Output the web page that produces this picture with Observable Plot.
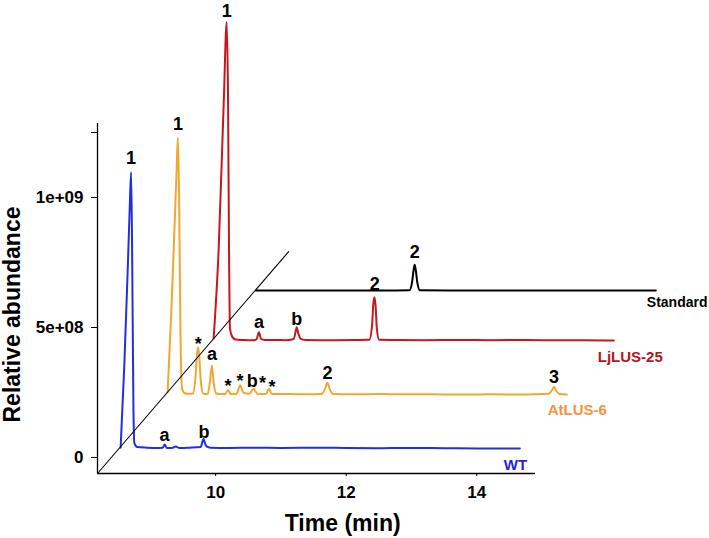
<!DOCTYPE html>
<html>
<head>
<meta charset="utf-8">
<script src="https://cdn.jsdelivr.net/npm/d3@7"></script>
<script src="https://cdn.jsdelivr.net/npm/@observablehq/plot@0.6"></script>
<style>
  html, body { margin: 0; padding: 0; background: #fff; }
  #chart { width: 709px; height: 538px; }
</style>
</head>
<body>
<div id="chart"></div>
<script>
// ---- Data (raw chromatogram values, each trace in its own time frame) ----
const seriesNames = ["WT", "AtLUS-6", "LjLUS-25", "Standard"];
const lineColors  = ["#2030e0", "#f0a830", "#c8161e", "#000000"];
const nameColors  = ["#2424e6", "#f7923f", "#b5161c", "#000000"];
const nameSizes   = [15, 15, 15, 14];
// pseudo-3D stacking offsets (minutes, abundance)
const offsetTime  = [0, 0.72, 1.425, 2.069];
const offsetAbund = [0, 2.06e8, 4.14e8, 6.04e8];

const wtTime  = [8.544, 8.60, 8.65, 8.685, 8.705, 8.722, 8.74, 8.755, 8.80, 8.95, 9.10, 9.19, 9.22, 9.25, 9.33, 9.39, 9.44, 9.60, 9.77, 9.80, 9.815, 9.83, 9.86, 9.92, 10.2, 10.6, 11.0, 11.5, 12.0, 12.5, 13.0, 13.5, 14.0, 14.3, 14.66];
const wtAbund = [3.8e7, 3.5e8, 7.0e8, 9.7e8, 1.097e9, 7.5e8, 2.0e8, 5.5e7, 4.0e7, 3.8e7, 3.7e7, 3.8e7, 5.0e7, 3.7e7, 3.7e7, 4.2e7, 3.7e7, 3.8e7, 4.0e7, 6.2e7, 7.2e7, 6.0e7, 4.3e7, 3.8e7, 3.7e7, 3.8e7, 3.7e7, 3.8e7, 3.7e7, 3.6e7, 3.7e7, 3.6e7, 3.5e7, 3.5e7, 3.5e7];

const atTime  = [8.544, 8.60, 8.65, 8.685, 8.702, 8.72, 8.74, 8.765, 8.80, 8.86, 8.93, 8.97, 8.995, 9.012, 9.03, 9.055, 9.09, 9.125, 9.16, 9.195, 9.223, 9.25, 9.29, 9.36, 9.43, 9.469, 9.51, 9.60, 9.655, 9.71, 9.80, 9.858, 9.92, 10.05, 10.097, 10.14, 10.4, 10.7, 10.90, 10.95, 10.992, 11.03, 11.08, 11.4, 11.8, 12.2, 12.6, 13.0, 13.5, 14.0, 14.38, 14.43, 14.465, 14.50, 14.55, 14.66];
const atAbund = [4.5e7, 3.5e8, 6.8e8, 9.2e8, 1.0236e9, 8.0e8, 3.0e8, 6.0e7, 4.2e7, 3.9e7, 4.0e7, 1.0e8, 1.9e8, 2.18e8, 1.8e8, 8.0e7, 4.0e7, 3.8e7, 4.0e7, 9.0e7, 1.48e8, 8.0e7, 4.0e7, 3.8e7, 3.8e7, 5.4e7, 3.8e7, 3.9e7, 7.1e7, 4.2e7, 4.0e7, 5.8e7, 3.9e7, 3.8e7, 5.8e7, 3.8e7, 3.8e7, 3.7e7, 3.8e7, 5.5e7, 8.2e7, 5.5e7, 3.8e7, 3.7e7, 3.8e7, 3.7e7, 3.7e7, 3.6e7, 3.7e7, 3.6e7, 3.9e7, 5.2e7, 6.6e7, 5.0e7, 3.8e7, 3.6e7];

const ljTime  = [8.544, 8.62, 8.70, 8.744, 8.765, 8.78, 8.795, 8.83, 8.88, 9.0, 9.15, 9.20, 9.239, 9.27, 9.33, 9.50, 9.65, 9.77, 9.80, 9.816, 9.84, 9.88, 9.95, 10.3, 10.7, 10.93, 10.97, 10.99, 11.007, 11.025, 11.045, 11.08, 11.3, 11.8, 12.3, 12.8, 13.3, 13.8, 14.2, 14.675];
const ljAbund = [4.4e7, 3.8e8, 9.6e8, 1.26e9, 9.6e8, 3.8e8, 8.0e7, 5.0e7, 4.0e7, 3.8e7, 3.7e7, 4.0e7, 6.8e7, 4.2e7, 3.8e7, 3.8e7, 3.7e7, 4.2e7, 7.0e7, 8.7e7, 6.5e7, 4.2e7, 3.8e7, 3.7e7, 3.8e7, 3.9e7, 9.0e7, 1.75e8, 2.025e8, 1.7e8, 8.0e7, 3.9e7, 3.8e7, 3.7e7, 3.8e7, 3.7e7, 3.8e7, 3.7e7, 3.7e7, 3.6e7];

const stdTime  = [8.544, 9.5, 10.5, 10.90, 10.94, 10.965, 10.98, 10.995, 11.02, 11.06, 11.5, 12.5, 13.5, 14.674];
const stdAbund = [3.8e7, 3.8e7, 3.8e7, 3.9e7, 7.0e7, 1.2e8, 1.37e8, 1.2e8, 7.0e7, 3.9e7, 3.8e7, 3.8e7, 3.8e7, 3.8e7];

// peak annotations (series index, time, abundance at label centre, text)
const peakSeries = [0, 0, 0, 1, 1, 1, 1, 1, 1, 1, 1, 1, 1, 2, 2, 2, 2, 3];
const peakTime   = [8.705, 9.218, 9.821, 8.702, 9.015, 9.223, 9.469, 9.652, 9.842, 9.996, 10.143, 10.992, 14.465, 8.744, 9.239, 9.816, 11.012, 10.981];
const peakAbund  = [1.1515e9, 8.46e7, 9.77e7, 1.075e9, 2.305e8, 1.90e8, 6.75e7, 8.67e7, 8.8e7, 7.8e7, 6.36e7, 1.198e8, 1.032e8, 1.303e9, 1.064e8, 1.17e8, 2.517e8, 1.871e8];
const peakText   = ["1", "a", "b", "1", "*", "a", "*", "*", "b", "*", "*", "2", "3", "1", "a", "b", "2", "2"];

// series name labels (display coordinates)
const nameTime  = [14.414, 15.088, 15.854, 16.605];
const nameAbund = [-3.08e7, 1.808e8, 3.846e8, 5.96e8];

// axes
const xTicks = [10, 12, 14];
const yTickValues = [0, 5e8, 1e9, 1.25e9];
const yTickLabels = ["0", "5e+08", "1e+09", ""];
const xDomain = [8.19, 14.9];
const yDomain = [-6.15e7, 1.7577e9];
const yAxisTop = 1.2846e9;
const diagTime = [8.19, 11.119];
const diagAbund = [-6.15e7, 7.92e8];

// ---- Build tables ----
const rawTimes = [wtTime, atTime, ljTime, stdTime];
const rawAbunds = [wtAbund, atAbund, ljAbund, stdAbund];
const traces = seriesNames.map((name, i) =>
  rawTimes[i].map((t, j) => ({ series: name, t: t + offsetTime[i], v: rawAbunds[i][j] + offsetAbund[i] }))
);
const peaks = peakText.map((txt, k) => {
  const i = peakSeries[k];
  return { text: txt, t: peakTime[k] + offsetTime[i], v: peakAbund[k] + offsetAbund[i] };
});
const names = seriesNames.map((n, i) => ({ text: n, t: nameTime[i], v: nameAbund[i], color: nameColors[i], size: nameSizes[i] }));
const diag = diagTime.map((t, i) => ({ t, v: diagAbund[i] }));

const font = "'Liberation Sans', Arial, Helvetica, sans-serif";

const lineMarks = [3, 2, 1, 0].map(i =>
  Plot.line(traces[i], { x: "t", y: "v", stroke: lineColors[i], strokeWidth: 2, curve: "monotone-x" })
);

const chart = Plot.plot({
  width: 709,
  height: 538,
  marginLeft: 97,
  marginRight: 174,
  marginTop: 0,
  marginBottom: 65,
  style: { fontFamily: font, fontWeight: "bold", fontSize: "17px", background: "#fff", color: "#000", overflow: "visible" },
  x: { domain: xDomain, ticks: xTicks, tickSize: 3, tickPadding: 9, label: null, tickFormat: d => String(d) },
  y: { domain: yDomain, ticks: yTickValues, tickSize: 6, tickPadding: 8, label: null,
       tickFormat: d => yTickLabels[yTickValues.indexOf(d)] },
  marks: [
    Plot.ruleY([yDomain[0]], { x1: xDomain[0], x2: xDomain[1], stroke: "#000", strokeWidth: 1.3 }),
    Plot.ruleX([xDomain[0]], { y1: yDomain[0], y2: yAxisTop, stroke: "#000", strokeWidth: 1.3 }),
    ...lineMarks,
    Plot.line(diag, { x: "t", y: "v", stroke: "#000", strokeWidth: 1.1 }),
    Plot.text(peaks, { x: "t", y: "v", text: "text", fontSize: 18, fontWeight: "bold", fill: "#000", lineAnchor: "middle" }),
    ...names.map(d => Plot.text([d], { x: "t", y: "v", text: "text", fill: d.color, fontSize: d.size, fontWeight: "bold", textAnchor: "start", lineAnchor: "middle" })),
    Plot.text(["Time (min)"], { x: 11.946, frameAnchor: "bottom", dy: 50, fontSize: 23, fontWeight: "bold", fill: "#000", textAnchor: "middle", lineAnchor: "middle" }),
    Plot.text(["Relative abundance"], { y: 5.5e8, frameAnchor: "left", dx: -85, rotate: -90, fontSize: 23, fontWeight: "bold", fill: "#000", textAnchor: "middle", lineAnchor: "middle" })
  ]
});
document.getElementById("chart").appendChild(chart);
</script>
</body>
</html>
